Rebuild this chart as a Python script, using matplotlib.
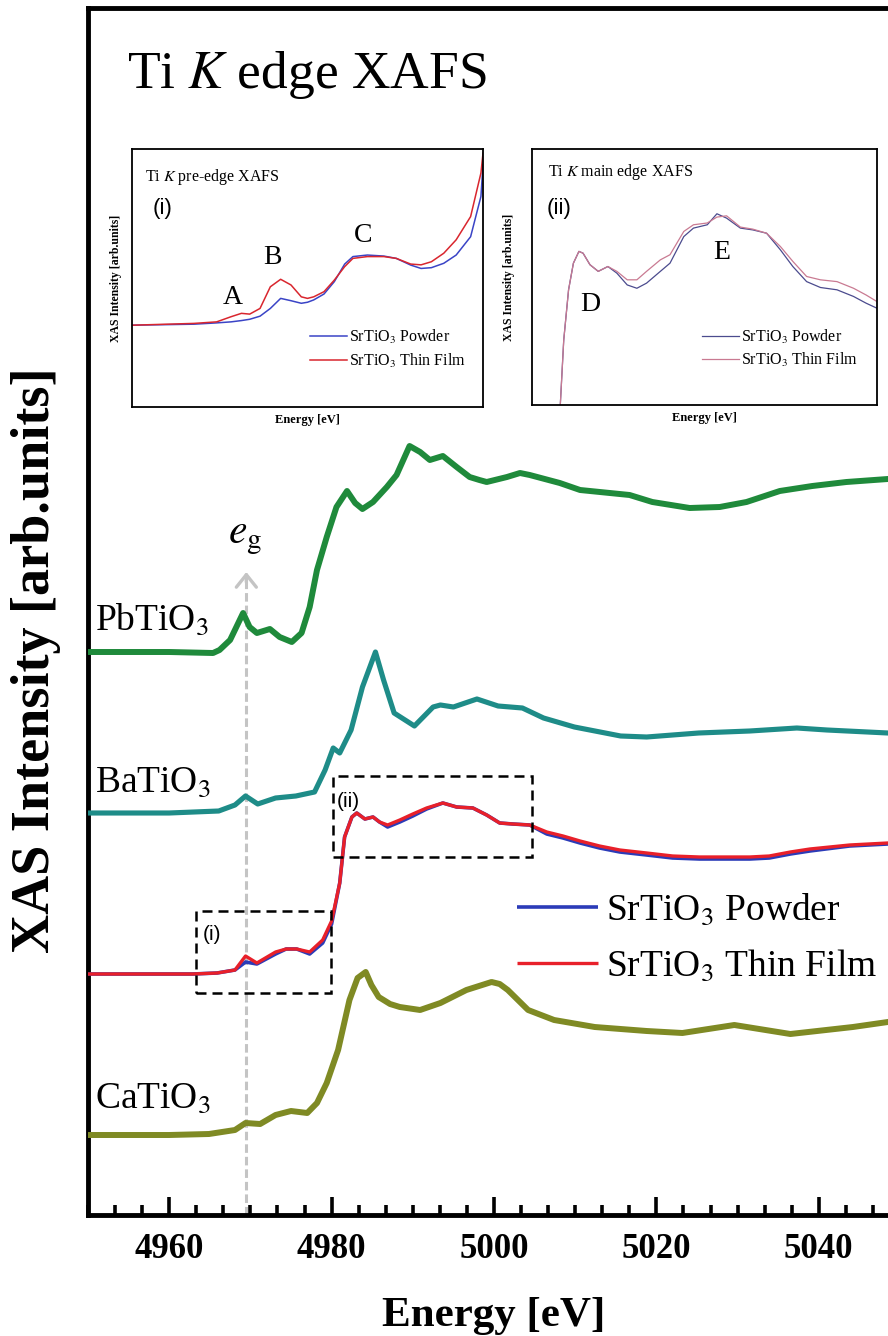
import numpy as np
import matplotlib
matplotlib.use("Agg")
import matplotlib.pyplot as plt
from matplotlib.ticker import MultipleLocator
from matplotlib.patches import Rectangle

plt.rcParams['font.family'] = ['Liberation Serif', 'DejaVu Serif']
plt.rcParams['mathtext.fontset'] = 'stix'

# ---------------- main panel: Ti K edge spectra (normalised, offset) ----------------
energy_pb = [4950.0, 4955.0, 4960.0, 4965.4, 4966.2, 4967.5, 4969.1, 4969.9, 4970.8, 4972.4,
             4973.6, 4975.1, 4976.3, 4977.3, 4978.2, 4979.4, 4980.6, 4981.9, 4982.9, 4983.8,
             4985.1, 4986.8, 4988.0, 4989.6, 4990.9, 4992.1, 4993.7, 4995.4, 4997.0, 4998.2,
             4999.1, 5001.6, 5003.2, 5004.4, 5008.1, 5010.6, 5016.7, 5019.5, 5024.1, 5027.8,
             5031.1, 5035.2, 5039.2, 5043.4, 5048.5, 5050.0]
intensity_pb = [0.00, 0.00, 0.00, -0.01, 0.02, 0.12, 0.39, 0.25, 0.19, 0.23,
                0.15, 0.10, 0.19, 0.45, 0.82, 1.15, 1.45, 1.61, 1.49, 1.43,
                1.50, 1.65, 1.77, 2.06, 2.00, 1.92, 1.96, 1.85, 1.75, 1.72,
                1.70, 1.75, 1.79, 1.77, 1.69, 1.62, 1.57, 1.50, 1.44, 1.45,
                1.50, 1.61, 1.66, 1.70, 1.73, 1.74]

energy_ba = [4950.0, 4955.0, 4960.0, 4966.1, 4968.1, 4969.4, 4970.9, 4973.1, 4975.6, 4977.9,
             4979.2, 4980.2, 4981.0, 4982.4, 4983.8, 4985.4, 4986.4, 4987.7, 4990.2, 4992.5,
             4993.4, 4995.0, 4997.9, 5000.5, 5003.5, 5006.1, 5009.9, 5015.6, 5018.8, 5025.2,
             5031.5, 5037.3, 5041.0, 5048.5, 5050.0]
intensity_ba = [0.00, 0.00, 0.00, 0.02, 0.08, 0.17, 0.09, 0.15, 0.17, 0.21,
                0.43, 0.65, 0.60, 0.83, 1.26, 1.61, 1.33, 1.00, 0.87, 1.06,
                1.08, 1.06, 1.14, 1.07, 1.05, 0.95, 0.86, 0.77, 0.76, 0.80,
                0.82, 0.85, 0.83, 0.80, 0.80]

energy_sr = [4950.0, 4955.0, 4962.9, 4965.9, 4968.1, 4969.4, 4970.8, 4973.1, 4974.4, 4975.7,
             4977.3, 4978.9, 4980.0, 4981.0, 4981.6, 4982.5, 4983.1, 4984.1, 4985.1, 4985.9,
             4986.9, 4988.4, 4990.0, 4991.7, 4993.7, 4995.4, 4997.4, 4999.1, 5000.7, 5002.3,
             5004.4, 5006.5, 5008.5, 5010.6, 5013.0, 5015.5, 5018.8, 5022.0, 5025.3, 5031.5,
             5033.9, 5036.5, 5038.9, 5043.8, 5048.5, 5050.0]
intensity_sr_film = [0.00, 0.00, 0.00, 0.01, 0.04, 0.18, 0.11, 0.22, 0.25, 0.25,
                     0.22, 0.34, 0.53, 0.91, 1.37, 1.57, 1.61, 1.55, 1.57, 1.52,
                     1.49, 1.54, 1.60, 1.66, 1.71, 1.67, 1.66, 1.59, 1.51, 1.50,
                     1.49, 1.42, 1.38, 1.33, 1.28, 1.24, 1.21, 1.18, 1.17, 1.17,
                     1.18, 1.22, 1.25, 1.29, 1.31, 1.32]
intensity_sr_powder = [0.00, 0.00, 0.00, 0.01, 0.04, 0.12, 0.10, 0.20, 0.25, 0.25,
                       0.20, 0.31, 0.50, 0.91, 1.37, 1.57, 1.61, 1.55, 1.57, 1.52,
                       1.47, 1.52, 1.58, 1.65, 1.71, 1.67, 1.66, 1.59, 1.51, 1.50,
                       1.49, 1.40, 1.36, 1.31, 1.26, 1.22, 1.19, 1.16, 1.15, 1.15,
                       1.16, 1.20, 1.23, 1.28, 1.30, 1.31]

energy_ca = [4950.0, 4955.0, 4960.0, 4964.9, 4968.1, 4969.4, 4971.2, 4973.1, 4975.0, 4977.0,
             4978.2, 4979.4, 4980.8, 4981.5, 4982.2, 4983.2, 4984.2, 4984.9, 4985.8, 4987.2,
             4988.4, 4990.9, 4993.4, 4996.6, 4999.7, 5000.7, 5001.7, 5004.2, 5007.4, 5012.4,
             5018.8, 5023.2, 5029.6, 5036.5, 5044.2, 5048.5, 5050.0]
intensity_ca = [0.00, 0.00, 0.00, 0.01, 0.05, 0.12, 0.11, 0.20, 0.24, 0.22,
                0.32, 0.52, 0.85, 1.10, 1.35, 1.57, 1.63, 1.50, 1.38, 1.31,
                1.28, 1.25, 1.32, 1.45, 1.53, 1.51, 1.45, 1.25, 1.15, 1.08,
                1.04, 1.02, 1.10, 1.01, 1.08, 1.13, 1.15]

compound_names = ["PbTiO$_3$", "BaTiO$_3$", "SrTiO$_3$", "CaTiO$_3$"]
vertical_offsets = [5.63, 4.02, 2.41, 0.80]
legend_labels = ["SrTiO$_3$ Powder", "SrTiO$_3$ Thin Film"]

eg_energy = 4969.5
x_ticks = [4960, 4980, 5000, 5020, 5040]

# ---------------- inset (i): pre-edge ----------------
energy_pre = [4963.0, 4966.0, 4967.1, 4967.8, 4968.3, 4968.7, 4969.2, 4969.7, 4970.2, 4970.7,
              4971.2, 4971.5, 4971.8, 4972.3, 4972.8, 4973.3, 4973.7, 4974.4, 4975.2, 4975.8,
              4976.5, 4977.0, 4977.5, 4978.1, 4978.7, 4979.4, 4979.9, 4980.0]
pre_film = [0.317, 0.324, 0.330, 0.350, 0.363, 0.360, 0.382, 0.466, 0.495, 0.473,
            0.427, 0.421, 0.427, 0.447, 0.492, 0.544, 0.576, 0.583, 0.583, 0.576,
            0.554, 0.551, 0.563, 0.596, 0.648, 0.738, 0.907, 0.984]
pre_powder = [0.317, 0.321, 0.326, 0.330, 0.335, 0.340, 0.352, 0.382, 0.421, 0.412,
              0.402, 0.406, 0.415, 0.438, 0.486, 0.554, 0.583, 0.589, 0.585, 0.576,
              0.550, 0.537, 0.540, 0.557, 0.589, 0.660, 0.816, 0.939]

# ---------------- inset (ii): main edge ----------------
energy_main = [4981.9, 4982.05, 4982.3, 4982.65, 4983.0, 4983.4, 4983.7, 4984.2, 4984.8, 4985.5,
               4986.15, 4986.9, 4987.6, 4988.3, 4989.3, 4990.0, 4991.0, 4991.7, 4992.7, 4993.4,
               4994.1, 4995.1, 4996.0, 4997.0, 4998.0, 4998.9, 4999.9, 5000.9, 5002.1, 5003.3,
               5004.2, 5005.0]
main_powder = [-0.05, 0.0, 0.254, 0.450, 0.554, 0.600, 0.593, 0.548, 0.522, 0.541,
               0.515, 0.469, 0.456, 0.476, 0.522, 0.554, 0.658, 0.691, 0.704, 0.747,
               0.730, 0.691, 0.684, 0.671, 0.606, 0.541, 0.482, 0.459, 0.450, 0.424,
               0.398, 0.378]
main_film = [-0.05, 0.0, 0.254, 0.450, 0.554, 0.600, 0.593, 0.548, 0.522, 0.541,
             0.522, 0.489, 0.489, 0.522, 0.567, 0.587, 0.678, 0.704, 0.711, 0.734,
             0.739, 0.695, 0.687, 0.671, 0.619, 0.561, 0.502, 0.489, 0.482, 0.456,
             0.430, 0.404]

# ---------------- styling ----------------
c_pb = '#1f8a3b'
c_ba = '#1e8c88'
c_ca = '#7f8a24'
c_red = '#e8202a'
c_blue = '#2b3bb8'

W, H = 888, 1336
fig = plt.figure(figsize=(W / 100, H / 100), dpi=100)
ax = fig.add_axes([88 / W, 121 / H, 812 / W, 1207 / H])
ax.set_xlim(4950, 5050)
ax.set_ylim(0, 12.07)

ax.plot(energy_pb, np.array(intensity_pb) + vertical_offsets[0], color=c_pb, lw=4.3,
        solid_capstyle='butt', zorder=3)
ax.plot(energy_ba, np.array(intensity_ba) + vertical_offsets[1], color=c_ba, lw=3.7,
        solid_capstyle='butt', zorder=3)
l_pow, = ax.plot(energy_sr, np.array(intensity_sr_powder) + vertical_offsets[2], color=c_blue,
                 lw=2.6, solid_capstyle='butt', zorder=3, label=legend_labels[0])
l_film, = ax.plot(energy_sr, np.array(intensity_sr_film) + vertical_offsets[2], color=c_red,
                  lw=2.4, solid_capstyle='butt', zorder=4, label=legend_labels[1])
ax.plot(energy_ca, np.array(intensity_ca) + vertical_offsets[3], color=c_ca, lw=4.3,
        solid_capstyle='butt', zorder=3)

# compound labels
label_lift = [0.22, 0.21, None, 0.27]
for name, off, lift in zip(compound_names, vertical_offsets, label_lift):
    if lift is None:
        continue
    ax.text(4950.9, off + lift, name, fontsize=27, va='baseline', ha='left', zorder=5)

# e_g marker
eg_tip = 6.43
ax.vlines(eg_energy, 0, eg_tip - 0.02, colors='#c4c4c4', linestyles=(0, (2.8, 1.3)),
          lw=2.2, zorder=1)
ax.annotate('', xy=(eg_energy, eg_tip), xytext=(eg_energy, eg_tip - 0.1),
            arrowprops=dict(arrowstyle='->,head_length=0.5,head_width=0.4', color='#c4c4c4',
                            lw=2.4, shrinkA=0, shrinkB=0, mutation_scale=18), zorder=1)
ax.text(eg_energy - 0.2, 6.72, r'$e_{\mathrm{g}}$', fontsize=30, ha='center', va='baseline')

# dashed zoom boxes
ax.add_patch(Rectangle((4963.3, 2.22), 16.6, 0.82, fill=False, ec='black', lw=1.8,
                       ls=(0, (4, 2.4)), zorder=5))
ax.add_patch(Rectangle((4980.15, 3.58), 24.5, 0.81, fill=False, ec='black', lw=1.8,
                       ls=(0, (4, 2.4)), zorder=5))
sans = ['Liberation Sans Narrow', 'Liberation Sans', 'DejaVu Sans']
ax.text(4964.15, 2.90, '(i)', fontsize=15, family=sans, va='top', ha='left')
ax.text(4980.6, 4.23, '(ii)', fontsize=15, family=sans, va='top', ha='left')

ax.legend(handles=[l_pow, l_film], loc='center left', bbox_to_anchor=(0.528, 0.229),
          frameon=False, fontsize=27, handlelength=2.16, handletextpad=0.21,
          labelspacing=0.55, borderpad=0, borderaxespad=0)

ax.text(0.048, 0.9337, 'Ti $K$ edge XAFS', transform=ax.transAxes, fontsize=38.5,
        va='baseline', ha='left')

# axes styling
for sp in ax.spines.values():
    sp.set_linewidth(3.5)
ax.set_xticks(x_ticks)
ax.xaxis.set_minor_locator(MultipleLocator(20 / 6))
ax.tick_params(axis='x', which='major', direction='in', length=13, width=2.6,
               labelsize=25, pad=13, top=False)
ax.tick_params(axis='x', which='minor', direction='in', length=7, width=2.6, top=False)
ax.tick_params(axis='y', which='both', left=False, right=False, labelleft=False)
plt.setp(ax.get_xticklabels(), fontweight='bold')
ax.set_xlabel('Energy [eV]', fontsize=31, fontweight='bold', labelpad=22)
ax.set_ylabel('XAS Intensity [arb.units]', fontsize=39, fontweight='bold')
ax.yaxis.set_label_coords(-0.033, 0.46)

# ---------------- inset (i) ----------------
ax1 = fig.add_axes([132 / W, (H - 407) / H, 351 / W, 258 / H])
ax1.plot(energy_pre, pre_powder, color='#3a44c6', lw=1.1, label=legend_labels[0])
ax1.plot(energy_pre, pre_film, color='#d9262e', lw=1.1, label=legend_labels[1])
ax1.set_xlim(4963, 4980)
ax1.set_ylim(0, 1)
ax1.set_xticks([])
ax1.set_yticks([])
for sp in ax1.spines.values():
    sp.set_linewidth(1.3)
ax1.set_xlabel('Energy [eV]', fontsize=9, fontweight='bold', labelpad=5)
ax1.set_ylabel('XAS Intensity [arb.units]', fontsize=8.5, fontweight='bold', labelpad=7)
ax1.text(0.037, 0.93, 'Ti $K$ pre-edge XAFS', transform=ax1.transAxes, fontsize=11.5,
         va='top', ha='left')
ax1.text(0.06, 0.81, '(i)', transform=ax1.transAxes, fontsize=16, family=sans,
         va='top', ha='left')
for lab, (px, py) in zip(['A', 'B', 'C'], [(0.288, 0.426), (0.399, 0.581), (0.658, 0.663)]):
    ax1.text(px, py, lab, transform=ax1.transAxes, fontsize=20, ha='center', va='center')
ax1.legend(loc='center left', bbox_to_anchor=(0.507, 0.225), frameon=False, fontsize=11.5,
           handlelength=2.3, handletextpad=0.15, labelspacing=0.35, borderpad=0,
           borderaxespad=0)

# ---------------- inset (ii) ----------------
ax2 = fig.add_axes([532 / W, (H - 405) / H, 345 / W, 256 / H])
ax2.plot(energy_main, main_powder, color='#4b4b8e', lw=0.9, label=legend_labels[0])
ax2.plot(energy_main, main_film, color='#c97a92', lw=0.9, label=legend_labels[1])
ax2.set_xlim(4980, 5005)
ax2.set_ylim(0, 1)
ax2.set_xticks([])
ax2.set_yticks([])
for sp in ax2.spines.values():
    sp.set_linewidth(1.3)
ax2.set_xlabel('Energy [eV]', fontsize=9, fontweight='bold', labelpad=5)
ax2.set_ylabel('XAS Intensity [arb.units]', fontsize=8.5, fontweight='bold', labelpad=12)
ax2.text(0.046, 0.95, 'Ti $K$ main edge XAFS', transform=ax2.transAxes, fontsize=11.5,
         va='top', ha='left')
ax2.text(0.043, 0.81, '(ii)', transform=ax2.transAxes, fontsize=16, family=sans,
         va='top', ha='left')
for lab, (px, py) in zip(['D', 'E'], [(0.168, 0.391), (0.551, 0.594)]):
    ax2.text(px, py, lab, transform=ax2.transAxes, fontsize=20, ha='center', va='center')
ax2.legend(loc='center left', bbox_to_anchor=(0.493, 0.221), frameon=False, fontsize=11.5,
           handlelength=2.3, handletextpad=0.15, labelspacing=0.3, borderpad=0,
           borderaxespad=0)

fig.savefig('out.png', dpi=100)
